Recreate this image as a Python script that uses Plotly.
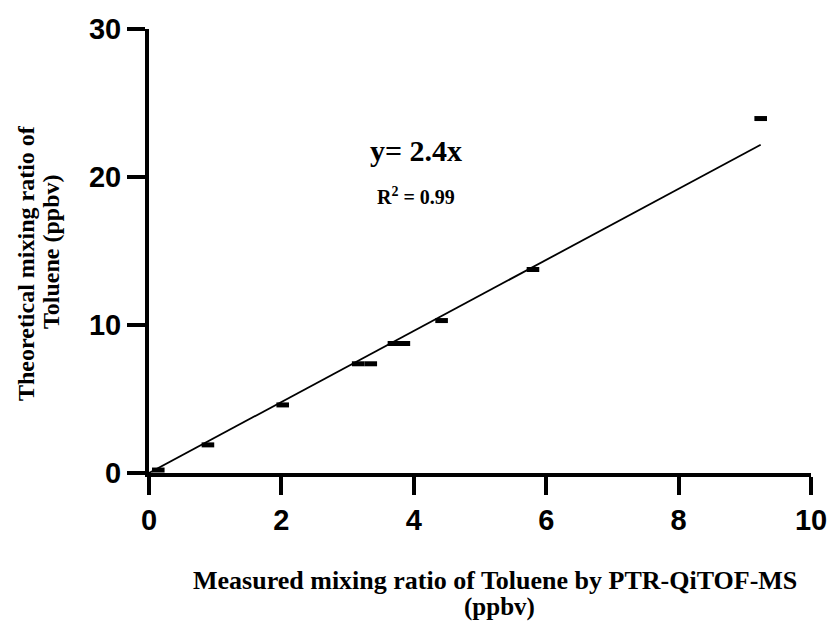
import plotly.graph_objects as go

# Data
measured = [0.14, 0.89, 2.02, 3.16, 3.35, 3.70, 3.85, 4.42, 5.80, 9.24]
theoretical = [0.2, 1.9, 4.6, 7.38, 7.38, 8.75, 8.75, 10.3, 13.75, 23.95]
fit_x = [0.0, 9.24]
slope = 2.4
fit_y = [slope * v for v in fit_x]

x_ticks = [0, 2, 4, 6, 8, 10]
y_ticks = [0, 10, 20, 30]

fig = go.Figure()
fig.add_trace(go.Scatter(
    x=fit_x, y=fit_y, mode="lines",
    line=dict(color="black", width=1.8),
    showlegend=False, hoverinfo="skip",
))
fig.add_trace(go.Scatter(
    x=measured, y=theoretical, mode="markers",
    marker=dict(symbol="line-ew", size=9, color="black",
                line=dict(color="black", width=5)),
    cliponaxis=False, showlegend=False,
))

serif = "Liberation Serif"
sans = "Liberation Sans"

# Plot area in window pixels: x 149..811, y 29..473
PX0, PX1, PY0, PY1 = 149, 811, 29, 473


def px(x):
    return (x - PX0) / (PX1 - PX0)


def py(y):
    return (PY1 - y) / (PY1 - PY0)


def note(text, x, y, size, angle=0):
    return dict(text=text, xref="paper", yref="paper", x=px(x), y=py(y),
                xanchor="center", yanchor="middle", showarrow=False,
                textangle=angle,
                font=dict(family=serif, size=size, color="black", weight="bold"))


axis_common = dict(
    showgrid=False, zeroline=False, automargin=False,
    showline=True, linewidth=4, linecolor="black",
    ticks="outside", ticklen=18, tickwidth=4, tickcolor="black",
    ticklabeloverflow="allow",
    tickfont=dict(family=sans, size=29, color="black", weight="bold"),
)

fig.update_layout(
    width=831, height=625,
    margin=dict(l=PX0, r=831 - PX1, t=PY0, b=625 - PY1),
    plot_bgcolor="white", paper_bgcolor="white",
    xaxis=dict(range=[0, 10], tickvals=x_ticks, **axis_common),
    yaxis=dict(range=[0, 30], tickvals=y_ticks, **axis_common),
    annotations=[
        note("y= 2.4x", 416, 150, 30),
        note("R<sup>2</sup> = 0.99", 416, 196, 20),
        note("Measured mixing ratio of Toluene by PTR-QiTOF-MS", 495, 580, 26),
        note("(ppbv)", 499, 607, 25),
        note("Theoretical mixing ratio of", 26, 263, 24, -90),
        note("Toluene (ppbv)", 51, 252, 24, -90),
    ],
)

fig.write_html(
    "out.html",
    config={"displayModeBar": False},
    post_script="document.body.style.margin='0';"
                "document.documentElement.style.overflow='hidden';",
)
